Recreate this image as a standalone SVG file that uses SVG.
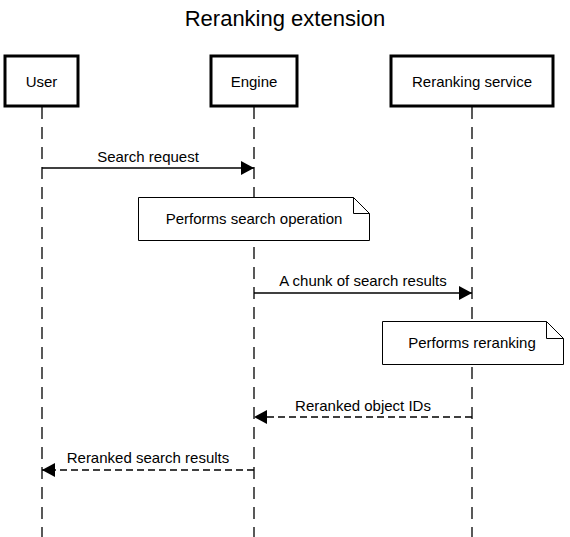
<svg xmlns="http://www.w3.org/2000/svg" width="570" height="537" viewBox="0 0 570 537">
<style>
text{font-family:"Liberation Sans",Arial,sans-serif;fill:#000}
.lbl{font-size:15px;text-anchor:middle}
.box{fill:#fff;stroke:#000;stroke-width:3}
.life{stroke:#000;stroke-width:1.3;stroke-dasharray:12 8;fill:none}
.msg{stroke:#000;stroke-width:1.3;fill:none}
.ret{stroke:#000;stroke-width:1.3;fill:none;stroke-dasharray:7 4}
.note{fill:#fff;stroke:#000;stroke-width:1}
</style>
<defs>
<marker id="ah" markerWidth="13" markerHeight="14" refX="13" refY="7" orient="auto" markerUnits="userSpaceOnUse">
<path d="M0,0 L13,7 L0,14 Z" fill="#000"/>
</marker>
</defs>
<rect width="570" height="537" fill="#fff"/>
<text x="285" y="26" font-size="22" text-anchor="middle">Reranking extension</text>
<g id="lifelines">
<line class="life" x1="42" y1="107" x2="42" y2="537"/>
<line class="life" x1="254" y1="107" x2="254" y2="537"/>
<line class="life" x1="472" y1="107" x2="472" y2="537"/>
</g>
<g id="user"><rect class="box" x="5" y="56" width="73" height="50"/><text class="lbl" x="41.5" y="87">User</text></g>
<g id="engine"><rect class="box" x="211" y="56" width="86" height="50"/><text class="lbl" x="254" y="87">Engine</text></g>
<g id="reranking-service"><rect class="box" x="391" y="56" width="162" height="50"/><text class="lbl" x="472" y="87">Reranking service</text></g>
<g id="note-search"><path class="note" d="M138.5,197.5 H353.5 L369.5,213.5 V240.5 H138.5 Z M353.5,197.5 V213.5 H369.5"/><text class="lbl" x="254" y="224">Performs search operation</text></g>
<g id="note-rerank"><path class="note" d="M382.5,321.5 H546.5 L563.5,338.5 V364.5 H382.5 Z M546.5,321.5 V338.5 H563.5"/><text class="lbl" x="472" y="348">Performs reranking</text></g>
<g id="connectors">
<line class="msg" x1="42" y1="168" x2="254" y2="168" marker-end="url(#ah)"/>
<text class="lbl" x="148" y="162">Search request</text>
<line class="msg" x1="254" y1="293" x2="472" y2="293" marker-end="url(#ah)"/>
<text class="lbl" x="363" y="286">A chunk of search results</text>
<line class="ret" x1="472" y1="417" x2="254" y2="417" marker-end="url(#ah)"/>
<text class="lbl" x="363" y="411">Reranked object IDs</text>
<line class="ret" x1="254" y1="470" x2="42" y2="470" marker-end="url(#ah)"/>
<text class="lbl" x="148" y="463">Reranked search results</text>
</g>
</svg>
